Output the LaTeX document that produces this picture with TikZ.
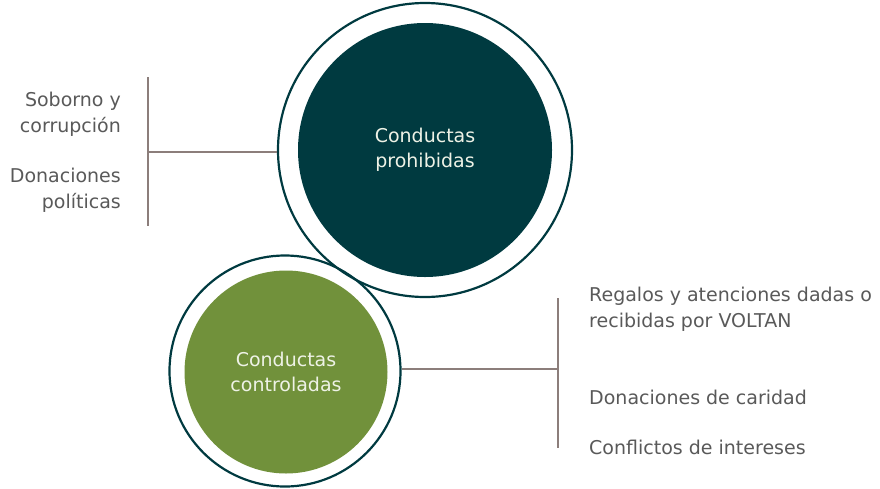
\documentclass[tikz,border=0pt]{standalone}
\usepackage{fontspec}
\setmainfont{DejaVu Sans}
\definecolor{teal}{HTML}{003A40}
\definecolor{olive}{HTML}{71913B}
\definecolor{conn}{HTML}{8C7E7B}
\definecolor{txt}{HTML}{595959}
\definecolor{ctext}{HTML}{EEF2E6}
\begin{document}
\begin{tikzpicture}[x=1pt,y=-1pt,
  ring/.style={draw=teal,line width=2.2pt,circle,minimum size=#1,inner sep=0pt},
  core/.style={circle,inner sep=0pt,minimum size=#1,text=ctext,align=center,font=\fontsize{19}{25}\selectfont},
  conn/.style={draw=conn,line width=1.2pt},
  lbl/.style={text=txt,font=\fontsize{19}{26}\selectfont,inner sep=0pt}]
\useasboundingbox (0,0) rectangle (880,488);
% big circle
\node[ring=294pt] (bigring) at (425,150) {};
\node[core=254pt,fill=teal] (big) at (425,150) {Conductas\\prohibidas};
% small circle
\node[ring=231pt] (smallring) at (285,371) {};
\node[core=203pt,fill=olive] (small) at (286,372) {Conductas\\controladas};
% left connector
\coordinate (lt) at (148,77);
\coordinate (lb) at (148,226);
\coordinate (lm) at (148,152);
\draw[conn] (lt) -- (lb);
\draw[conn] (lm) -- (bigring.west |- lm);
% right connector
\coordinate (rt) at (558,298);
\coordinate (rb) at (558,448);
\coordinate (rm) at (558,369);
\draw[conn] (rt) -- (rb);
\draw[conn] (smallring.east |- rm) -- (rm);
% left labels
\node[lbl,anchor=east,align=right] (l1) at (121,114) {Soborno y\\corrupción};
\node[lbl,anchor=east,align=right] (l2) at (121,190) {Donaciones\\políticas};
% right labels
\node[lbl,anchor=west,align=left] (r1) at (589,309) {Regalos y atenciones dadas o\\recibidas por VOLTAN};
\node[lbl,anchor=west] (r2) at (589,397) {Donaciones de caridad};
\node[lbl,anchor=west] (r3) at (589,447) {Conflictos de intereses};
\end{tikzpicture}
\end{document}
